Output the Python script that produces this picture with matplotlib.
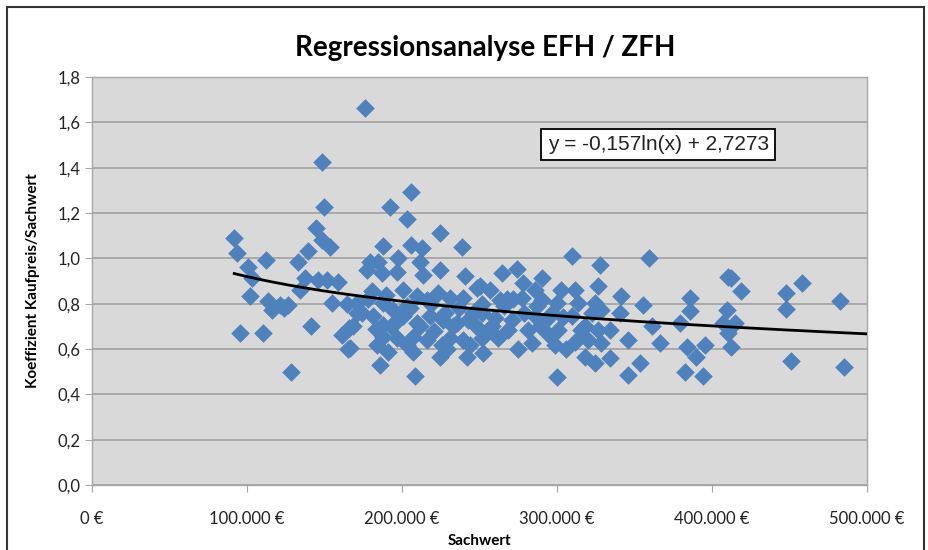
import matplotlib
matplotlib.use("Agg")
import matplotlib.pyplot as plt
import numpy as np
from matplotlib.patches import Rectangle
from matplotlib.ticker import FuncFormatter, MultipleLocator

# Sachwert in thousand euro, Koeffizient Kaufpreis/Sachwert
sachwert_k = [
    91.8, 93.3, 100.8, 103, 112.3, 101.9, 95.5, 110.5, 113.8, 115.9,
    121.3, 126.7, 124, 128.2, 132.7, 139.6, 137.4, 134.2, 141.3, 144.3,
    148.2, 149.9, 148.2, 153.5, 146, 151.4, 159, 154.6, 164.3, 161.1,
    165.8, 165, 176.1, 205.6, 192.3, 203.4, 224.9, 238.5, 187.9, 206.2,
    212.7, 179.4, 184.7, 197.6, 177.2, 186.9, 196.6, 211.6, 213.7, 224.9,
    240.6, 248.2, 180.4, 170.8, 187.9, 194.4, 203, 209.5, 215.9, 223.4,
    231, 239.5, 168.6, 181.5, 187.9, 200.8, 209.5, 218.1, 226.7, 235.3,
    242.8, 187.9, 207.3, 215.9, 231, 239.5, 166.5, 191.2, 207.3, 224.5,
    241.7, 185.8, 208.4, 309.5, 264.3, 274, 290.1, 250.3, 256.8, 278.3,
    285.8, 303, 311.6, 327.7, 326.7, 263.2, 277.2, 290.1, 299.8, 313.8,
    324.5, 251.4, 260, 270.8, 285.8, 296.6, 309.5, 322.4, 255.7, 268.6,
    281.5, 300.8, 315.9, 326.7, 251.4, 283.7, 298.7, 311.6, 320.2, 252.5,
    318.1, 324.5, 299.8, 328.8, 359.6, 341.7, 355.7, 385.8, 385.8, 328.8,
    340.6, 334.2, 346, 361.1, 366.5, 379.4, 383.7, 395.5, 390.1, 334.2,
    353.5, 346, 382.6, 394.4, 410.5, 407.3, 412.7, 419.1, 448.2, 458.3,
    447.7, 482.6, 409.5, 414.8, 410.5, 412.7, 451.4, 485.4,
    174, 178, 183, 190, 196, 201, 205, 212, 219, 228,
    233, 237, 246, 252, 258, 266, 272, 279, 287, 293,
    197, 203, 221, 229, 244, 262, 275, 295, 306, 318,
    171, 184, 193, 226, 248, 268, 289, 304,
]
koeffizient = [
    1.089, 1.023, 0.964, 0.913, 0.993, 0.832, 0.670, 0.670, 0.810, 0.773,
    0.795, 0.795, 0.780, 0.497, 0.986, 1.033, 0.913, 0.861, 0.703, 1.136,
    1.426, 1.226, 1.081, 1.052, 0.905, 0.905, 0.898, 0.802, 0.800, 0.663,
    0.692, 0.600, 1.662, 1.292, 1.226, 1.173, 1.111, 1.048, 1.056, 1.059,
    1.045, 0.986, 0.986, 1.001, 0.949, 0.935, 0.942, 0.986, 0.927, 0.949,
    0.924, 0.869, 0.854, 0.803, 0.803, 0.773, 0.788, 0.832, 0.817, 0.847,
    0.825, 0.825, 0.700, 0.744, 0.707, 0.744, 0.714, 0.744, 0.729, 0.714,
    0.729, 0.655, 0.655, 0.641, 0.648, 0.641, 0.604, 0.589, 0.589, 0.567,
    0.567, 0.531, 0.482, 1.012, 0.937, 0.952, 0.913, 0.876, 0.861, 0.891,
    0.861, 0.861, 0.861, 0.971, 0.876, 0.817, 0.825, 0.817, 0.803, 0.803,
    0.803, 0.759, 0.737, 0.729, 0.744, 0.759, 0.744, 0.759, 0.685, 0.685,
    0.685, 0.685, 0.685, 0.685, 0.648, 0.626, 0.619, 0.633, 0.641, 0.582,
    0.567, 0.538, 0.477, 0.626, 1.001, 0.832, 0.795, 0.825, 0.766, 0.773,
    0.759, 0.685, 0.641, 0.700, 0.626, 0.714, 0.611, 0.619, 0.567, 0.560,
    0.538, 0.487, 0.501, 0.482, 0.920, 0.714, 0.913, 0.857, 0.849, 0.893,
    0.778, 0.813, 0.773, 0.714, 0.670, 0.611, 0.548, 0.523,
    0.760, 0.820, 0.690, 0.840, 0.720, 0.860, 0.780, 0.700, 0.800, 0.760,
    0.700, 0.780, 0.760, 0.800, 0.700, 0.790, 0.820, 0.760, 0.790, 0.730,
    0.650, 0.620, 0.680, 0.600, 0.620, 0.650, 0.600, 0.660, 0.600, 0.700,
    0.760, 0.620, 0.700, 0.620, 0.700, 0.820, 0.700, 0.740,
]

# logarithmic trend line given in the chart
trend_a, trend_b = -0.157, 2.7273

sachwert = np.array(sachwert_k) * 1000
koeff = np.array(koeffizient)

fig = plt.figure(figsize=(9.29, 5.5), dpi=100)
ax = fig.add_axes([0.099, 0.118, 0.834, 0.742])
ax.set_facecolor("#d9d9d9")

ax.scatter(sachwert, koeff, marker="D", s=90, color="#4f81bd", lw=0, zorder=3)

xt = np.linspace(sachwert.min(), 500000, 200)
ax.plot(xt, trend_a * np.log(xt) + trend_b, color="black", lw=2, zorder=4)

ax.set_xlim(0, 500000)
ax.set_ylim(0, 1.8)
ax.xaxis.set_major_locator(MultipleLocator(100000))
ax.yaxis.set_major_locator(MultipleLocator(0.2))
ax.xaxis.set_major_formatter(FuncFormatter(
    lambda v, p: f"{int(round(v)):,}".replace(",", ".") + " €"))
ax.yaxis.set_major_formatter(FuncFormatter(
    lambda v, p: f"{v:.1f}".replace(".", ",")))
ax.grid(axis="y", color="#a6a6a6", lw=1.3, zorder=1)
ax.set_axisbelow(True)
for s in ax.spines.values():
    s.set_color("#a6a6a6")
    s.set_linewidth(1.0)
ax.tick_params(axis="both", direction="out", length=5, color="#a6a6a6",
               labelsize=12, labelcolor="#222222")
ax.tick_params(axis="x", pad=14)
for lab in ax.get_xticklabels() + ax.get_yticklabels():
    lab.set_family("Lato")

ax.set_xlabel("Sachwert", fontsize=11, fontweight="bold", family="Lato", labelpad=5)
ax.set_ylabel("Koeffizient Kaufpreis/Sachwert", fontsize=11, fontweight="bold",
              family="Lato", labelpad=12)

fig.text(0.522, 0.912, "Regressionsanalyse EFH / ZFH", ha="center", va="center",
         fontsize=20, fontweight="bold", family="Lato")

ax.text(0.588, 0.835, "y = -0,157ln(x) + 2,7273", transform=ax.transAxes,
        fontsize=15, family="Liberation Sans", color="#222222", va="center",
        bbox=dict(boxstyle="square,pad=0.3", fc="white", ec="black", lw=1.3),
        zorder=5)

fig.patches.append(Rectangle((0.007, -0.01), 0.988, 0.997, transform=fig.transFigure,
                             fill=False, ec="#333333", lw=1.5))

fig.savefig("out.png", dpi=100)
